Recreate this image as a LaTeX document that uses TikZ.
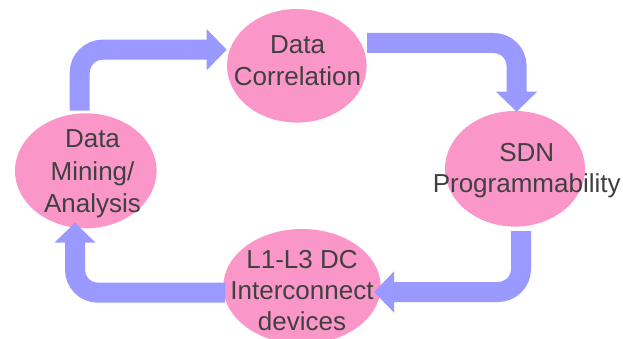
\documentclass[tikz,border=0pt]{standalone}
\usepackage{fontspec}
\setmainfont{Liberation Sans}
\usetikzlibrary{shapes.geometric,arrows.meta}
\definecolor{petal}{RGB}{250,150,200}
\definecolor{flowc}{RGB}{153,153,255}
\definecolor{inkc}{RGB}{64,64,64}
\begin{document}
\begin{tikzpicture}[x=1pt,y=-1pt,
  blob/.style={ellipse,fill=petal,draw=none,inner sep=0pt},
  flow/.style={draw=flowc,line width=20pt,line cap=butt,rounded corners=23pt,-{Triangle[width=40pt,length=20pt]}},
  lbl/.style={anchor=base,text=inkc,font=\fontsize{26}{32}\selectfont,inner sep=0pt}]
\useasboundingbox (0,0) rectangle (623,339);
% ellipses
\node[blob,minimum width=139.6pt,minimum height=113.6pt] (corr) at (296.8,65.8) {};
\node[blob,minimum width=140pt,minimum height=115.6pt] (sdn) at (515,168.8) {};
\node[blob,minimum width=141.6pt,minimum height=115pt] (mine) at (85.8,170.8) {};
\node[blob,minimum width=157.4pt,minimum height=115pt] (dci) at (302,286.5) {};
% arrow end points
\coordinate (a1s) at (79.7,110.7);
\coordinate (a1e) at (226.7,49.7);
\coordinate (a2s) at (367,43);
\coordinate (a2e) at (516.6,111.7);
\coordinate (a3s) at (521,231);
\coordinate (a3e) at (374,292);
\coordinate (a4s) at (225,292.7);
\coordinate (a4e) at (75,222.7);
\draw[flow] (a1s) |- (a1e);
\draw[flow] (a2s) -| (a2e);
\draw[flow] (a3s) |- (a3e);
\draw[flow] (a4s) -| (a4e);
% labels
\node[lbl] (corr1) at (297.5,53.3) {Data};
\node[lbl] (corr2) at (297.5,86) {Correlation};
\node[lbl] (sdn1) at (526.7,161) {SDN};
\node[lbl] (sdn2) at (526.7,192.7) {Programmability};
\node[lbl] (mine1) at (92.5,148) {Data};
\node[lbl] (mine2) at (92.5,180) {Mining/};
\node[lbl] (mine3) at (92.5,212) {Analysis};
\node[lbl] (dci1) at (302,268.3) {L1-L3 DC};
\node[lbl] (dci2) at (302,299.3) {Interconnect};
\node[lbl] (dci3) at (302,330) {devices};
\end{tikzpicture}
\end{document}
